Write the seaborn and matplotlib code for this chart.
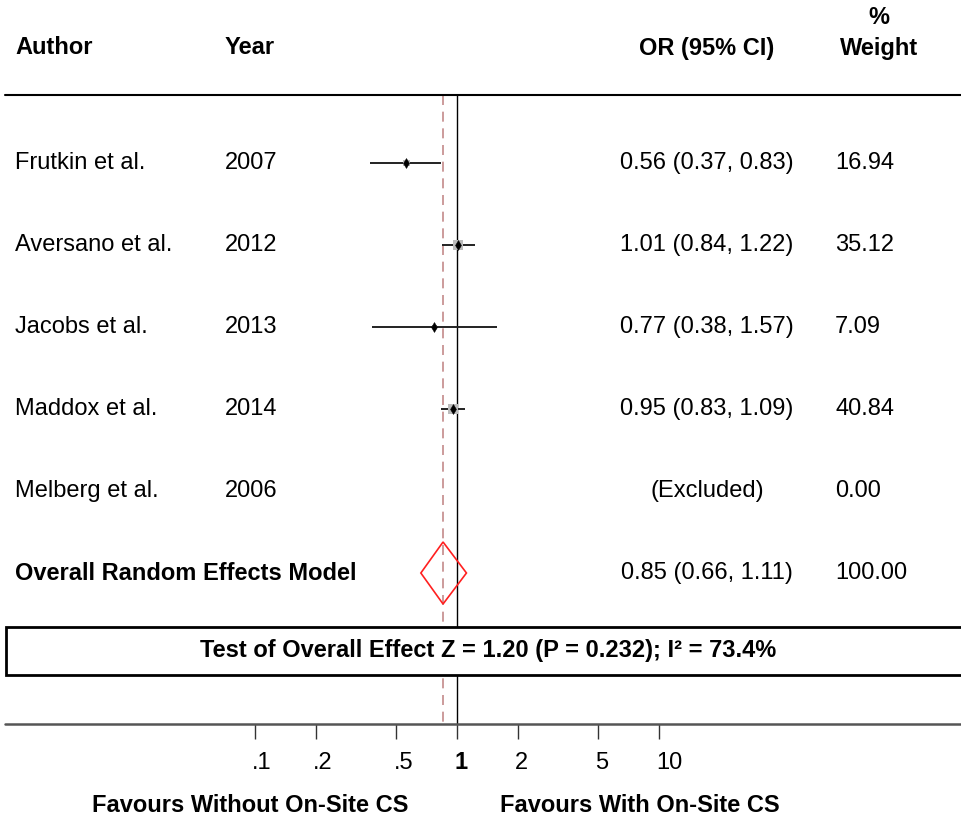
import numpy as np
import pandas as pd
import matplotlib
matplotlib.use("Agg")
import matplotlib.pyplot as plt
import matplotlib.transforms as mtransforms
from matplotlib.patches import Polygon, Rectangle
import seaborn as sns

# ---------------- data ----------------
authors = ["Frutkin et al.", "Aversano et al.", "Jacobs et al.", "Maddox et al.", "Melberg et al."]
years = ["2007", "2012", "2013", "2014", "2006"]
or_est = [0.56, 1.01, 0.77, 0.95, np.nan]
or_lo = [0.37, 0.84, 0.38, 0.83, np.nan]
or_hi = [0.83, 1.22, 1.57, 1.09, np.nan]
or_text = ["0.56 (0.37, 0.83)", "1.01 (0.84, 1.22)", "0.77 (0.38, 1.57)", "0.95 (0.83, 1.09)", "(Excluded)"]
weights = [16.94, 35.12, 7.09, 40.84, 0.00]
weight_text = ["16.94", "35.12", "7.09", "40.84", "0.00"]

overall_label = "Overall Random Effects Model"
overall_est, overall_lo, overall_hi = 0.85, 0.66, 1.11
overall_text = "0.85 (0.66, 1.11)"
overall_weight = "100.00"
test_text = "Test of Overall Effect Z = 1.20 (P = 0.232); I² = 73.4%"

xticks = [0.1, 0.2, 0.5, 1, 2, 5, 10]
xticklabels = [".1", ".2", ".5", "1", "2", "5", "10"]
favour_left = "Favours Without On-Site CS"
favour_right = "Favours With On-Site CS"

# ---------------- style ----------------
sns.set_theme(style="white")
plt.rcParams["font.family"] = ["Liberation Sans", "DejaVu Sans"]
plt.rcParams["text.color"] = "black"
plt.rcParams["xtick.color"] = "black"
FS = 17

W, H = 961, 822
fig = plt.figure(figsize=(W / 100, H / 100), dpi=100)
ax = fig.add_axes([0, 0, 1, 1])
ax.set_xscale("log")
# pixel mapping: x=1 at 457.3 px, 202 px per decade; rows every 82 px starting at 163 px
x0, ppd = 457.3, 202.0
ax.set_xlim(10 ** ((0 - x0) / ppd), 10 ** ((W - x0) / ppd))
r0, rs = 163.0, 82.0
def row(py):
    return (py - r0) / rs
ax.set_ylim(row(H), row(0))
ax.set_facecolor("white")

n = len(authors)
rows = np.arange(n)
overall_row = n

trans = mtransforms.blended_transform_factory(ax.transAxes, ax.transData)
def fx(px):
    return px / W

# header
ax.text(fx(15), row(48), "Author", transform=trans, ha="left", va="center", fontsize=FS, fontweight="bold")
ax.text(fx(225), row(48), "Year", transform=trans, ha="left", va="center", fontsize=FS, fontweight="bold")
ax.text(fx(707), row(48), "OR (95% CI)", transform=trans, ha="center", va="center", fontsize=FS, fontweight="bold")
ax.text(fx(879), row(18), "%", transform=trans, ha="center", va="center", fontsize=FS, fontweight="bold")
ax.text(fx(879), row(48), "Weight", transform=trans, ha="center", va="center", fontsize=FS, fontweight="bold")

# top line
ax.plot([fx(5), 1], [row(95), row(95)], transform=trans, color="black", lw=1.5, zorder=2)

# reference lines
top, bot = row(95), row(724)
ax.plot([1, 1], [top, bot], color="black", lw=1.0, zorder=1)
ax.plot([overall_est, overall_est], [top, bot], color="#c48a8a", lw=1.2, ls=(0, (6, 4)), zorder=1)

# study rows
df = pd.DataFrame({"author": authors, "year": years, "est": or_est, "lo": or_lo,
                   "hi": or_hi, "w": weights, "row": rows})
dfp = df.dropna().copy()
ax.hlines(dfp["row"], dfp["lo"], dfp["hi"], color="#222222", lw=1.4, zorder=3)
dfp["msize"] = (1.6 * np.sqrt(dfp["w"].values) * 0.72) ** 2
sns.scatterplot(data=dfp, x="est", y="row", size="msize",
                sizes={v: v for v in dfp["msize"]}, marker="s",
                color="#bcbcbc", edgecolor="#bcbcbc", linewidth=0.0, ax=ax, zorder=4, legend=False)
sns.scatterplot(data=dfp, x="est", y="row", s=26, marker="d",
                color="black", edgecolor="black", linewidth=0.3, ax=ax, zorder=5, legend=False)

for i in range(n):
    ax.text(fx(15), rows[i], authors[i], transform=trans, ha="left", va="center", fontsize=FS)
    ax.text(fx(225), rows[i], years[i], transform=trans, ha="left", va="center", fontsize=FS)
    ax.text(fx(707), rows[i], or_text[i], transform=trans, ha="center", va="center", fontsize=FS)
    ax.text(fx(835), rows[i], weight_text[i], transform=trans, ha="left", va="center", fontsize=FS)

# overall
hh = 31.0 / rs
diamond = Polygon([[overall_lo, overall_row], [overall_est, overall_row - hh],
                   [overall_hi, overall_row], [overall_est, overall_row + hh]],
                  closed=True, fill=False, edgecolor="#ff2020", lw=1.2, zorder=5)
ax.add_patch(diamond)
ax.text(fx(15), overall_row, overall_label, transform=trans, ha="left", va="center", fontsize=FS, fontweight="bold")
ax.text(fx(707), overall_row, overall_text, transform=trans, ha="center", va="center", fontsize=FS)
ax.text(fx(835), overall_row, overall_weight, transform=trans, ha="left", va="center", fontsize=FS)

# test box
box = Rectangle((fx(6), row(675)), 1.1, row(627) - row(675), transform=trans,
                facecolor="white", edgecolor="black", lw=2, zorder=6)
ax.add_patch(box)
ax.text(fx(488), row(651), test_text, transform=trans, ha="center", va="center",
        fontsize=FS, fontweight="bold", zorder=7)

# x axis
for s in ["top", "left", "right", "bottom"]:
    ax.spines[s].set_visible(False)
ax.spines["bottom"].set_position(("data", row(724)))
ax.plot([fx(5), 1], [row(724), row(724)], transform=trans, color="#555555", lw=1.8, zorder=2)
ax.set_xticks(xticks)
ax.set_xticklabels(xticklabels)
ax.xaxis.set_minor_locator(matplotlib.ticker.NullLocator())
ax.tick_params(axis="x", which="major", direction="out", length=10.8, width=1.0,
               color="#333333", labelcolor="black", labelsize=FS, pad=21.5, bottom=True)
offset = mtransforms.ScaledTranslation(-3 / 100, 0, fig.dpi_scale_trans)
for lbl in ax.get_xticklabels():
    lbl.set_horizontalalignment("left")
    lbl.set_verticalalignment("baseline")
    lbl.set_transform(lbl.get_transform() + offset)
    if lbl.get_text() == "1":
        lbl.set_fontweight("bold")
ax.set_yticks([])
ax.set_xlabel("")
ax.set_ylabel("")

ax.text(fx(250), row(805), favour_left, transform=trans, ha="center", va="center", fontsize=FS, fontweight="bold")
ax.text(fx(640), row(805), favour_right, transform=trans, ha="center", va="center", fontsize=FS, fontweight="bold")

fig.savefig("out.png", dpi=100, facecolor="white")
